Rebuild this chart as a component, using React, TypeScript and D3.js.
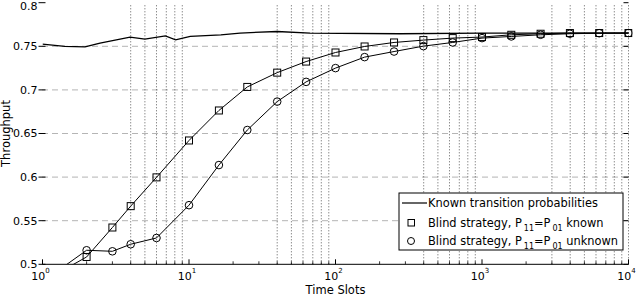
import React from "react";
import * as d3 from "d3";

const markerT = [1, 2, 3, 4, 6, 10, 16, 25, 40, 63, 100, 158, 251, 398, 631, 1000, 1585, 2512, 3981, 6310, 10000];
const knownStrategy = [0.48, 0.5084, 0.5422, 0.5667, 0.5997, 0.642, 0.6764, 0.7034, 0.7198, 0.7325, 0.7429, 0.7498, 0.7544, 0.7571, 0.7594, 0.7606, 0.7632, 0.7644, 0.7652, 0.7652, 0.7652];
const unknownStrategy = [0.48, 0.5161, 0.5149, 0.523, 0.5302, 0.5678, 0.6138, 0.654, 0.6866, 0.7092, 0.725, 0.7376, 0.744, 0.7502, 0.7544, 0.7594, 0.7613, 0.7632, 0.7644, 0.765, 0.7652];

const knownT = [1, 1.42, 1.95, 2.47, 3.96, 5, 6.9, 8.1, 10.2, 16.5, 22.3, 40, 67, 275, 1000, 10000];
const knownProb = [0.7525, 0.7498, 0.7494, 0.7537, 0.7606, 0.7583, 0.762, 0.7575, 0.7613, 0.7632, 0.7652, 0.767, 0.7652, 0.7644, 0.7652, 0.7652];

const yTicks = [0.5, 0.55, 0.6, 0.65, 0.7, 0.75, 0.8];
const yTickLabels = ["0.5", "0.55", "0.6", "0.65", "0.7", "0.75", "0.8"];
const xDecades = [0, 1, 2, 3, 4];
const gridMultiples = [4, 5, 6, 7, 8, 9];

const W = 640, H = 296;
const L = 42.5, R = 628.5, T = 2.7, B = 264.3;
const FONT = "DejaVu Sans, Verdana, sans-serif";

export default function App() {
  const x = d3.scaleLog().domain([1, 10000]).range([L, R]);
  const y = d3.scaleLinear().domain([0.5, 0.8]).range([B, T]);

  const line = d3.line<[number, number]>().x(d => x(d[0])).y(d => y(d[1]));
  const knownData: [number, number][] = knownT.map((t, i) => [t, knownProb[i]]);
  const sqData: [number, number][] = markerT.map((t, i) => [t, knownStrategy[i]]);
  const ciData: [number, number][] = markerT.map((t, i) => [t, unknownStrategy[i]]);

  const minorTicks: number[] = [];
  xDecades.slice(0, 4).forEach(d => {
    for (let m = 2; m <= 9; m++) minorTicks.push(m * Math.pow(10, d));
  });
  const gridX: number[] = [];
  xDecades.slice(0, 4).forEach(d => gridMultiples.forEach(m => gridX.push(m * Math.pow(10, d))));
  gridX.push(3000);

  const visible = (d: [number, number]) => d[1] >= 0.5;

  return (
    <svg width={W} height={H} style={{ position: "absolute", left: 0, top: 0, background: "#fff" }} fontFamily={FONT}>
      <defs>
        <clipPath id="plot">
          <rect x={L} y={T - 2} width={R - L + 4} height={B - T + 2} />
        </clipPath>
      </defs>
      {/* vertical grid */}
      {gridX.map((t, i) => (
        <line key={"gx" + i} x1={x(t)} x2={x(t)} y1={B} y2={T + 2} stroke="#333" strokeWidth={0.8} strokeDasharray="1,2" />
      ))}
      <line x1={x(10000)} x2={x(10000)} y1={B} y2={T + 2} stroke="#333" strokeWidth={0.8} strokeDasharray="1,2" />
      {/* horizontal grid */}
      {yTicks.slice(1, 6).map((v, i) => (
        <line key={"gy" + i} x1={L} x2={R} y1={y(v)} y2={y(v)} stroke="#444" strokeWidth={0.8} strokeDasharray="1,1,1,1,1,5" />
      ))}
      {/* axes */}
      <line x1={L} x2={R} y1={B} y2={B} stroke="#000" strokeWidth={1} />
      {yTicks.map((v, i) => (
        <g key={"yt" + i}>
          <line x1={L - 4} x2={L + 3} y1={y(v)} y2={y(v)} stroke="#000" strokeWidth={1} />
          <line x1={R - 5} x2={R} y1={y(v)} y2={y(v)} stroke="#000" strokeWidth={1} />
          <text x={L - 5} y={Math.max(y(v), 6.5)} dy="0.36em" textAnchor="end" fontSize={11}>{yTickLabels[i]}</text>
        </g>
      ))}
      {xDecades.map(d => (
        <g key={"xt" + d}>
          <line x1={x(Math.pow(10, d))} x2={x(Math.pow(10, d))} y1={B} y2={B - 5} stroke="#000" strokeWidth={1} />
          <text x={x(Math.pow(10, d)) - 2} y={B + 16} textAnchor="middle" fontSize={11}>
            10<tspan fontSize={7} dy={-7}>{d}</tspan>
          </text>
        </g>
      ))}
      {minorTicks.map((t, i) => (
        <line key={"mt" + i} x1={x(t)} x2={x(t)} y1={B} y2={B - 3} stroke="#000" strokeWidth={0.8} />
      ))}
      <text x={(L + R) / 2} y={294} textAnchor="middle" fontSize={11.5}>Time Slots</text>
      <text transform={`translate(10,${(T + B) / 2}) rotate(-90)`} textAnchor="middle" fontSize={11.5}>Throughput</text>

      {/* series */}
      <g clipPath="url(#plot)">
        <path d={line(knownData) || ""} fill="none" stroke="#000" strokeWidth={1.3} />
        <path d={line(sqData) || ""} fill="none" stroke="#000" strokeWidth={1} />
        <path d={line(ciData) || ""} fill="none" stroke="#000" strokeWidth={1} />
        {sqData.filter(visible).map((d, i) => (
          <rect key={"sq" + i} x={x(d[0]) - 3.5} y={y(d[1]) - 3.5} width={7} height={7} fill="none" stroke="#000" strokeWidth={1} />
        ))}
        {ciData.filter(visible).map((d, i) => (
          <circle key={"ci" + i} cx={x(d[0])} cy={y(d[1])} r={3.8} fill="none" stroke="#000" strokeWidth={1} />
        ))}
      </g>

      {/* legend */}
      <g>
        <rect x={399} y={193} width={224} height={57} fill="#fff" stroke="#000" strokeWidth={1} />
        <line x1={402} x2={427} y1={203} y2={203} stroke="#000" strokeWidth={1.2} />
        <text x={428} y={207} fontSize={11.4}>Known transition probabilities</text>
        <rect x={408} y={219.5} width={6.5} height={6.5} fill="none" stroke="#000" strokeWidth={1} />
        <text x={428} y={227} fontSize={11.4}>
          Blind strategy, P<tspan fontSize={8} dx={2} dy={4}>11</tspan><tspan dy={-4}>=P</tspan><tspan fontSize={8} dx={2} dy={4}>01</tspan><tspan dy={-4}> known</tspan>
        </text>
        <circle cx={411} cy={241} r={3.5} fill="none" stroke="#000" strokeWidth={1} />
        <text x={428} y={245} fontSize={11.4}>
          Blind strategy, P<tspan fontSize={8} dx={2} dy={4}>11</tspan><tspan dy={-4}>=P</tspan><tspan fontSize={8} dx={2} dy={4}>01</tspan><tspan dy={-4}> unknown</tspan>
        </text>
      </g>
    </svg>
  );
}
